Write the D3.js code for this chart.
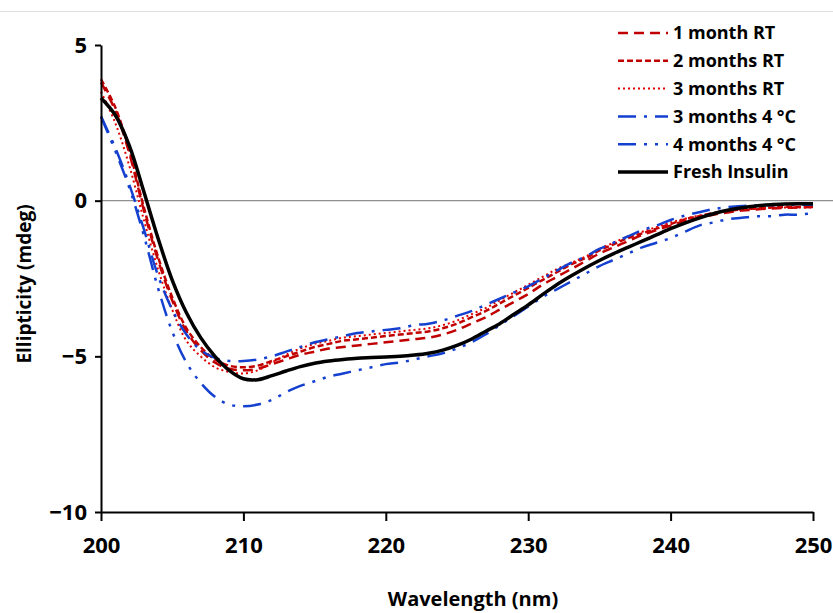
<!DOCTYPE html>
<html>
<head>
<meta charset="utf-8">
<script src="https://cdn.jsdelivr.net/npm/d3@7"></script>
<style>
  body { margin: 0; background: #fff; }
  text { font-family: "Open Sans", sans-serif; font-weight: bold; fill: #000; }
</style>
</head>
<body>
<div id="chart"></div>
<script>
// wavelengths (nm), 1 nm steps
var wavelength = d3.range(200, 251);

// ellipticity (mdeg)
var oneMonthRT = [3.8, 2.9, 1.5, -0.3, -1.9, -3.2, -4.2, -4.8, -5.2, -5.4,
  -5.45, -5.4, -5.25, -5.1, -4.95, -4.85, -4.75, -4.7, -4.65, -4.6,
  -4.55, -4.5, -4.45, -4.4, -4.3, -4.15, -3.95, -3.75, -3.5, -3.25,
  -3.0, -2.7, -2.45, -2.2, -1.95, -1.7, -1.5, -1.3, -1.1, -0.95,
  -0.8, -0.65, -0.55, -0.45, -0.38, -0.32, -0.28, -0.25, -0.23, -0.22, -0.2];
var twoMonthsRT = [3.9, 3.0, 1.6, -0.2, -1.8, -3.1, -4.1, -4.7, -5.1, -5.3,
  -5.35, -5.3, -5.15, -5.0, -4.85, -4.7, -4.6, -4.5, -4.45, -4.4,
  -4.35, -4.3, -4.25, -4.2, -4.1, -3.95, -3.75, -3.55, -3.3, -3.05,
  -2.8, -2.55, -2.3, -2.05, -1.85, -1.6, -1.4, -1.2, -1.05, -0.9,
  -0.75, -0.6, -0.5, -0.4, -0.33, -0.28, -0.25, -0.22, -0.2, -0.2, -0.18];
var threeMonthsRT = [3.5, 2.5, 1.1, -0.6, -2.2, -3.5, -4.5, -5.0, -5.35, -5.5,
  -5.55, -5.45, -5.2, -4.95, -4.75, -4.6, -4.5, -4.4, -4.35, -4.3,
  -4.25, -4.2, -4.15, -4.1, -4.0, -3.85, -3.65, -3.45, -3.2, -2.95,
  -2.7, -2.45, -2.2, -2.0, -1.8, -1.55, -1.35, -1.15, -1.0, -0.85,
  -0.7, -0.58, -0.48, -0.4, -0.33, -0.28, -0.25, -0.23, -0.22, -0.22, -0.22];
var threeMonths4C = [2.7, 1.7, 0.5, -0.9, -2.4, -3.5, -4.3, -4.8, -5.05, -5.15,
  -5.15, -5.1, -5.0, -4.85, -4.7, -4.55, -4.45, -4.35, -4.25, -4.2,
  -4.15, -4.1, -4.0, -3.95, -3.85, -3.7, -3.55, -3.35, -3.15, -2.95,
  -2.75, -2.5, -2.25, -2.0, -1.8, -1.55, -1.35, -1.15, -0.95, -0.8,
  -0.62, -0.48, -0.37, -0.27, -0.21, -0.17, -0.15, -0.14, -0.13, -0.13, -0.13];
var fourMonths4C = [2.7, 1.6, 0.4, -1.1, -2.8, -4.2, -5.2, -5.85, -6.3, -6.55,
  -6.6, -6.55, -6.4, -6.15, -5.95, -5.8, -5.65, -5.55, -5.45, -5.35,
  -5.25, -5.2, -5.1, -5.0, -4.9, -4.75, -4.55, -4.3, -4.0, -3.7,
  -3.4, -3.1, -2.85, -2.6, -2.35, -2.1, -1.9, -1.7, -1.5, -1.35,
  -1.2, -1.0, -0.8, -0.7, -0.6, -0.55, -0.5, -0.5, -0.45, -0.45, -0.4];
var freshInsulin = [3.3, 2.75, 1.75, 0.3, -1.2, -2.55, -3.6, -4.4, -5.0, -5.45,
  -5.72, -5.75, -5.62, -5.47, -5.33, -5.22, -5.15, -5.1, -5.06, -5.04,
  -5.02, -5.0, -4.96, -4.9, -4.8, -4.65, -4.45, -4.2, -3.95, -3.65,
  -3.35, -3.02, -2.7, -2.42, -2.16, -1.92, -1.7, -1.5, -1.3, -1.1,
  -0.9, -0.72, -0.56, -0.42, -0.31, -0.23, -0.17, -0.13, -0.11, -0.1, -0.1];

var seriesNames = ["1 month RT", "2 months RT", "3 months RT", "3 months 4 \u00B0C", "4 months 4 \u00B0C", "Fresh Insulin"];
var seriesValues = [oneMonthRT, twoMonthsRT, threeMonthsRT, threeMonths4C, fourMonths4C, freshInsulin];

var xTicks = [200, 210, 220, 230, 240, 250];
var yTicks = [5, 0, -5, -10];

// line styles per series
var styles = [
  {color: "#c00000", width: 2.5, dash: "10,6"},
  {color: "#c00000", width: 2.5, dash: "6,3"},
  {color: "#e00000", width: 2, dash: "2,3"},
  {color: "#1440d0", width: 2.5, dash: "18,8,3,8"},
  {color: "#1440d0", width: 2.5, dash: "18,8,3,8,3,8"},
  {color: "#000000", width: 3.5, dash: null}
];

var W = 833, H = 613;
var svg = d3.select("#chart").append("svg")
    .attr("width", W)
    .attr("height", H);

// thin grey rule at the top of the picture
svg.append("line")
    .attr("x1", 0).attr("x2", W)
    .attr("y1", 11.5).attr("y2", 11.5)
    .attr("stroke", "#e0e0e0");

var x = d3.scaleLinear().domain([200, 250]).range([101, 813]);
var y = d3.scaleLinear().domain([-10, 5]).range([512, 45]);

// zero line
svg.append("line")
    .attr("x1", x(200)).attr("x2", W)
    .attr("y1", y(0)).attr("y2", y(0))
    .attr("stroke", "#909090")
    .attr("stroke-width", 1.2);

var data = seriesNames.map(function(name, i) {
  return {
    name: name,
    style: styles[i],
    values: wavelength.map(function(w, j) { return {w: w, v: seriesValues[i][j]}; })
  };
});

var line = d3.line()
    .x(function(d) { return x(d.w); })
    .y(function(d) { return y(d.v); })
    .curve(d3.curveCatmullRom.alpha(0.5));

svg.selectAll("path.series")
  .data(data)
  .enter()
  .append("path")
    .attr("class", "series")
    .attr("d", function(d) { return line(d.values); })
    .attr("fill", "none")
    .attr("stroke", function(d) { return d.style.color; })
    .attr("stroke-width", function(d) { return d.style.width; })
    .attr("stroke-dasharray", function(d) { return d.style.dash; });

// Y axis
var yAxis = svg.append("g")
    .attr("transform", "translate(" + x(200) + ",0)")
    .call(d3.axisLeft(y).tickValues(yTicks).tickSizeInner(6).tickSizeOuter(0).tickPadding(8));
// X axis
var xAxis = svg.append("g")
    .attr("transform", "translate(0," + y(-10) + ")")
    .call(d3.axisBottom(x).tickValues(xTicks).tickSizeInner(9).tickSizeOuter(0).tickPadding(16));

[xAxis, yAxis].forEach(function(a) {
  a.select(".domain").attr("stroke", "#000").attr("stroke-width", 2);
  a.selectAll(".tick line").attr("stroke", "#000").attr("stroke-width", 2);
  a.selectAll("text").style("font-size", "22px").attr("fill", "#000")
    .style("font-family", "'Open Sans', sans-serif").style("font-weight", "bold");
});

// axis titles
svg.append("text")
    .attr("x", 473).attr("y", 606)
    .attr("text-anchor", "middle")
    .style("font-size", "20px")
    .text("Wavelength (nm)");
svg.append("text")
    .attr("transform", "translate(31,284) rotate(-90)")
    .attr("text-anchor", "middle")
    .style("font-size", "19px")
    .text("Ellipticity (mdeg)");

// legend
var legend = svg.selectAll("g.legend")
  .data(data)
  .enter()
  .append("g")
    .attr("class", "legend")
    .attr("transform", function(d, i) { return "translate(618," + (33 + i * 27.8) + ")"; });
legend.append("line")
    .attr("x1", 0).attr("x2", 50)
    .attr("stroke", function(d) { return d.style.color; })
    .attr("stroke-width", function(d) { return d.style.width; })
    .attr("stroke-dasharray", function(d) { return d.style.dash; });
legend.append("text")
    .attr("x", 55).attr("dy", "0.35em")
    .style("font-size", "18px")
    .text(function(d) { return d.name; });
</script>
</body>
</html>
